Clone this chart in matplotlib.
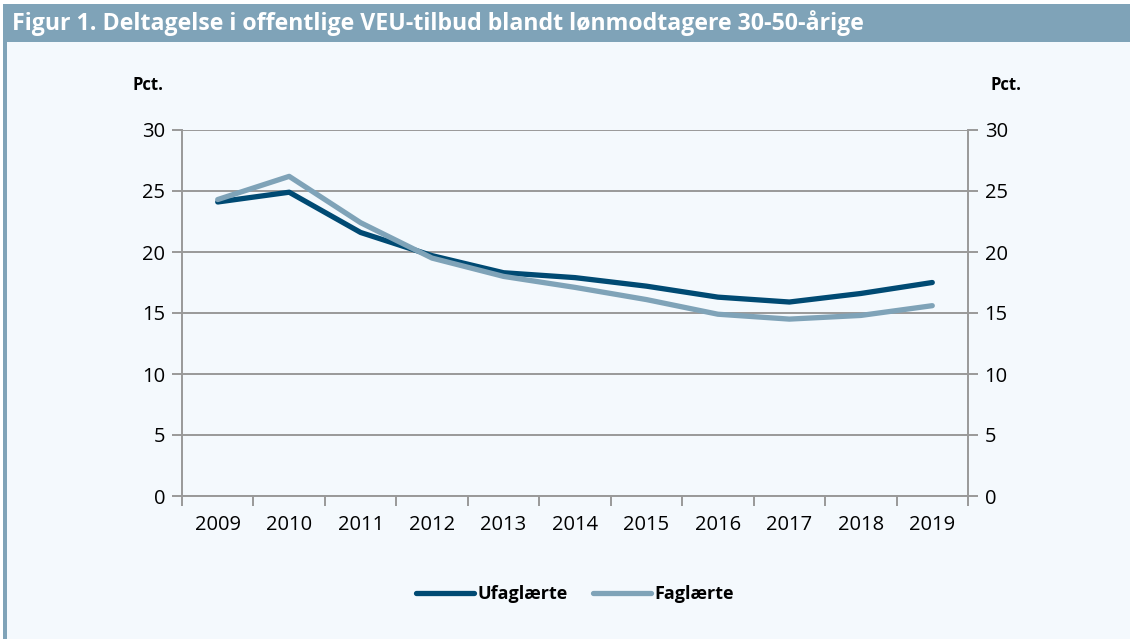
import numpy as np
import matplotlib.pyplot as plt
from matplotlib.patches import Rectangle

years = ["2009", "2010", "2011", "2012", "2013", "2014", "2015", "2016", "2017", "2018", "2019"]
ufaglaerte = [24.1, 24.9, 21.6, 19.7, 18.3, 17.9, 17.2, 16.3, 15.9, 16.6, 17.5]
faglaerte = [24.3, 26.2, 22.4, 19.5, 18.0, 17.1, 16.1, 14.9, 14.5, 14.8, 15.6]
yticks = [0, 5, 10, 15, 20, 25, 30]

title = "Figur 1. Deltagelse i offentlige VEU-tilbud blandt lønmodtagere 30-50-årige"
dark = "#004a73"
light = "#7fa3b8"
bg = "#f4f9fd"
grid = "#999999"

plt.rcParams["font.family"] = ["Open Sans", "DejaVu Sans"]

fig = plt.figure(figsize=(11.3, 6.39), dpi=100)
fig.patch.set_facecolor("white")

# background panel, title bar and left border
fig.patches.append(Rectangle((3 / 1130, 0), 1, 1 - 4 / 639, transform=fig.transFigure,
                             facecolor=bg, edgecolor="none", zorder=-3))
fig.patches.append(Rectangle((3 / 1130, 1 - 42 / 639), 1, 38 / 639, transform=fig.transFigure,
                             facecolor=light, edgecolor="none", zorder=-2))
fig.patches.append(Rectangle((3 / 1130, 0), 4 / 1130, 1 - 4 / 639, transform=fig.transFigure,
                             facecolor=light, edgecolor="none", zorder=-2))
fig.text(12 / 1130, 1 - 23 / 639, title, color="white", fontsize=16.7, fontweight="bold",
         va="center", ha="left")

ax = fig.add_axes([182 / 1130, 1 - 496 / 639, 786 / 1130, 366 / 639])
ax.set_facecolor("none")
x = np.arange(len(years))
l1, = ax.plot(x, ufaglaerte, color=dark, lw=3.8, solid_capstyle="round", label="Ufaglærte", zorder=3)
l2, = ax.plot(x, faglaerte, color=light, lw=3.8, solid_capstyle="round", label="Faglærte", zorder=3)

ax.set_xlim(-0.5, len(years) - 0.5)
ax.set_ylim(0, 30)
ax.set_yticks(yticks)
ax.yaxis.grid(True, color=grid, lw=1.4)
ax.set_axisbelow(True)

ax.set_xticks(np.arange(-0.5, len(years), 1))
ax.set_xticklabels([])
ax.set_xticks(x, minor=True)
ax.set_xticklabels(years, minor=True)
ax.tick_params(axis="x", which="major", length=7, width=1.4, color=grid, direction="out")
ax.tick_params(axis="x", which="minor", length=0, pad=14, labelsize=14.5)
ax.tick_params(axis="y", length=7, width=1.4, color=grid, labelsize=14.5, pad=5)

for side in ["left", "right", "bottom"]:
    ax.spines[side].set_color(grid)
    ax.spines[side].set_linewidth(1.4)
ax.spines["top"].set_visible(False)

ax2 = ax.twinx()
ax2.set_ylim(0, 30)
ax2.set_yticks(yticks)
ax2.tick_params(axis="y", length=7, width=1.4, color=grid, labelsize=14.5, pad=5)
for s in ax2.spines.values():
    s.set_visible(False)

fig.text(148 / 1130, 1 - 85 / 639, "Pct.", fontsize=12, fontweight="bold", ha="center", va="center")
fig.text(1006 / 1130, 1 - 85 / 639, "Pct.", fontsize=12, fontweight="bold", ha="center", va="center")

leg = fig.legend(handles=[l1, l2], loc="center", bbox_to_anchor=(575 / 1130, 1 - 594 / 639),
                 ncol=2, frameon=False, prop={"weight": "bold", "size": 13},
                 handlelength=3.2, handletextpad=0.2, columnspacing=1.4)

fig.savefig("out.png", dpi=100)
